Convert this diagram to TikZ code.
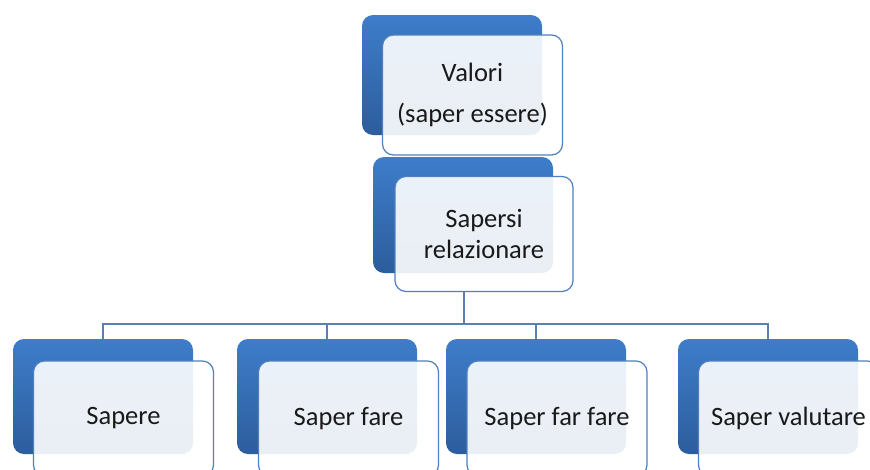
\documentclass[tikz,border=0pt]{standalone}
\usepackage{fontspec}
\setmainfont{Carlito}
\definecolor{btop}{HTML}{3E7DCA}
\definecolor{bbot}{HTML}{2C5D9C}
\definecolor{bline}{HTML}{4F7FBF}
\definecolor{lnk}{HTML}{5A80B4}
\tikzset{
 backbox/.style={draw=none, rounded corners=11pt, top color=btop, bottom color=bbot, minimum width=180pt, minimum height=#1, inner sep=0pt},
 frontbox/.style={draw=bline, line width=1.2pt, rounded corners=11pt, fill=white, fill opacity=0.9, text opacity=1, minimum width=180pt, minimum height=#1, inner sep=0pt, align=center, font=\fontsize{26.5}{31}\selectfont, text=black!90},
 link/.style={draw=lnk, line width=1.3pt}
}
\begin{document}
\begin{tikzpicture}[x=1pt,y=-1pt]
\clip (0,0) rectangle (870,469);
\fill[white] (0,0) rectangle (870,469);
% top
\node[backbox=120pt] (vb) at (452,75) {};
\node[frontbox=120pt] (v) at (472.5,95) {Valori\\[10pt](saper essere)};
% second
\node[backbox=116pt] (sb) at (463,215) {};
\node[frontbox=115pt, minimum width=178pt] (s) at (484,234) {Sapersi\\relazionare};
% bottom row
\node[backbox=115pt] (ab) at (103,396.5) {};
\node[frontbox=115pt] (a) at (123.5,418.5) {Sapere};
\node[backbox=115pt] (bb) at (327,396.5) {};
\node[frontbox=115pt] (b) at (348.5,418.5) {Saper fare};
\node[backbox=115pt] (cb) at (536,396.5) {};
\node[frontbox=115pt] (c) at (557,418.5) {Saper far fare};
\node[backbox=115pt] (db) at (768,396.5) {};
\node[frontbox=115pt] (d) at (788.5,418.5) {Saper valutare};
% connectors
\coordinate (bus) at (464,324);
\draw[link] (bus |- s.south) -- (bus);
\draw[link] (bus) -| (ab.north);
\draw[link] (bus) -| (bb.north);
\draw[link] (bus) -| (cb.north);
\draw[link] (bus) -| (db.north);
\end{tikzpicture}
\end{document}
